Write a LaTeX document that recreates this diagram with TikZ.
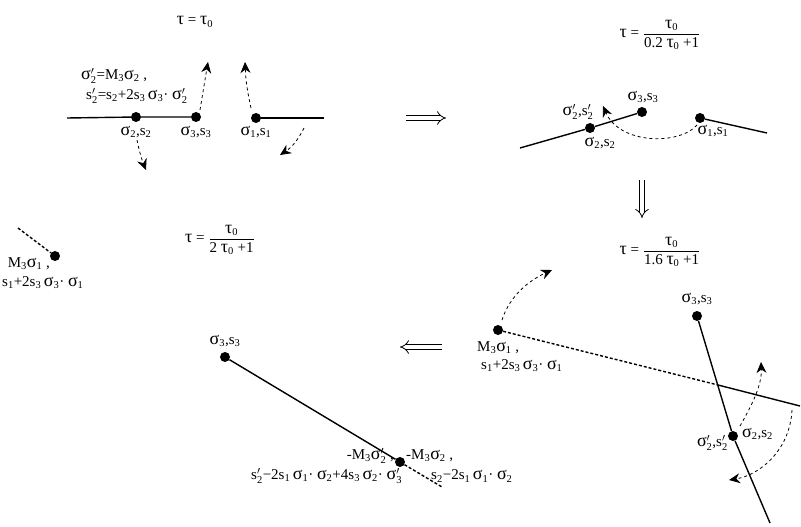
\documentclass[tikz,border=0pt]{standalone}
\usepackage{amsmath}
\usepackage{fontspec}
\setmainfont{Liberation Serif}
\usetikzlibrary{arrows.meta}
\newcommand\sig{{\fontsize{18}{18}\selectfont σ}}
\newcommand\ta{{\fontsize{18}{18}\selectfont τ}}
\newcommand\G[1]{$\text{\sig}_{\text{#1}}$}
\newcommand\Gp[1]{$\text{\sig}'_{\text{#1}}$}
\newcommand\Ss[1]{$\text{s}_{\text{#1}}$}
\newcommand\Sp[1]{$\text{s}'_{\text{#1}}$}
\newcommand\Mt{$\text{M}_{\text{3}}$}
\newcommand\Tau[1]{\ta{} = $\dfrac{\text{\ta}_{\text{0}}}{\text{#1 \ta}_{\text{0}}\text{ +1}}$}
\tikzset{dot/.style={circle,fill,inner sep=0pt,minimum size=10pt},
lbl/.style={inner sep=0pt,font=\fontsize{15}{16}\selectfont},
ln/.style={line width=1.4pt},
dt/.style={line width=1.4pt,dash pattern=on 3pt off 2pt},
dsh/.style={dashed,line width=0.8pt,-{Stealth[length=11pt,width=10pt]}},
big/.style={double,double distance=4pt,line width=0.8pt,-{Implies}}}
\begin{document}
\begin{tikzpicture}[x=1pt,y=-1pt]
\useasboundingbox (0,0) rectangle (801,527);
% panel 1
\node[lbl] (t1) at (195,22) {\ta{} = \ta$_{\text{0}}$};
\node[dot] (a2) at (136,117) {};
\node[dot] (a3) at (196,117) {};
\node[dot] (a1) at (256,118) {};
\coordinate (a0) at (67,118);
\coordinate (a4) at (324,118);
\draw[ln] (a0) -- (a2) -- (a3);
\draw[ln] (a1) -- (a4);
\node[lbl] at (136,132) {\G2,\Ss2};
\node[lbl] at (196,132) {\G3,\Ss3};
\node[lbl] at (256,132) {\G1,\Ss1};
\node[lbl,anchor=west] at (81,76) {\Gp2=\Mt\G2 ,};
\node[lbl,anchor=west] at (86,96) {\Sp2=\Ss2+2\Ss3\,\G3· \Gp2};
\coordinate (u1) at (208,62); \coordinate (u2) at (245,62);
\coordinate (d1) at (146,170); \coordinate (d2) at (280,155);
\draw[dsh] (200,110) -- (u1);
\draw[dsh] (251,108) to[bend left=5] (u2);
\draw[dsh] (137,140) to[bend right=5] (d1);
\draw[dsh] (304,128) to[bend left=15] (d2);
\coordinate (r1) at (406,118); \coordinate (r2) at (446,118);
\draw[big] (r1) -- (r2);
% panel 2
\node[lbl] (t2) at (660,35) {\Tau{0.2}};
\coordinate (b0) at (520,148);
\node[dot] (b2) at (590,128) {};
\node[dot] (b3) at (642,112) {};
\node[dot] (b1) at (700,118) {};
\coordinate (b4) at (767,133);
\draw[ln] (b0) -- (b2) -- (b3);
\draw[ln] (b1) -- (b4);
\node[lbl] at (578,112) {\Gp2,\Sp2};
\node[lbl] at (643,97) {\G3,\Ss3};
\node[lbl] at (600,143) {\G2,\Ss2};
\node[lbl] at (713,131) {\G1,\Ss1};
\coordinate (bt) at (603,106);
\draw[dsh] (697,125) .. controls (680,145) and (620,145) .. (bt);
\coordinate (v1) at (642,180); \coordinate (v2) at (642,218);
\draw[big] (v1) -- (v2);
% panel 3
\node[lbl] (t3) at (660,252) {\Tau{1.6}};
\node[dot] (c3) at (697,316) {};
\node[dot] (c2) at (733,436) {};
\coordinate (c4) at (770,523);
\draw[ln] (c3) -- (c2) -- (c4);
\node[lbl] at (697,299) {\G3,\Ss3};
\node[lbl,anchor=west] at (742,434) {\G2,\Ss2};
\node[lbl,anchor=east] at (728,443) {\Gp2,\Sp2};
\node[dot] (c1) at (498,330) {};
\coordinate (cx) at (718,385);
\coordinate (c5) at (800,406);
\draw[dt] (c1) -- (cx);
\draw[ln] (cx) -- (c5);
\node[lbl,anchor=west] at (477,348) {\Mt\G1 ,};
\node[lbl,anchor=west] at (481,366) {\Ss1+2\Ss3\,\G3· \G1};
\draw[dsh] (502,320) .. controls (510,295) and (530,280) .. (552,270);
\draw[dsh] (740,426) .. controls (752,405) and (762,385) .. (761,362);
\draw[dsh] (792,410) .. controls (790,450) and (760,475) .. (729,480);
\coordinate (l1) at (442,347); \coordinate (l2) at (400,347);
\draw[big] (l1) -- (l2);
% panel 4
\node[lbl] (t4) at (220,240) {\Tau{2}};
\node[dot] (e3) at (225,357) {};
\node[dot] (e2) at (400,462) {};
\coordinate (e5) at (442,487);
\draw[ln] (e3) -- (e2);
\draw[dt] (e2) -- (e5);
\node[lbl] at (225,341) {\G3,\Ss3};
\node[lbl,anchor=east] at (394,456) {-\Mt\Gp2 ,};
\node[lbl,anchor=west] at (406,456) {-\Mt\G2 ,};
\node[lbl,anchor=west] at (251,476) {\Sp2−2\Ss1\,\G1· \G2+4\Ss3\,\G2· \Gp3 };
\node[lbl,anchor=west] at (431,476) {\Ss2−2\Ss1\,\G1· \G2};
% left
\node[dot] (f1) at (55,256) {};
\coordinate (f0) at (18,228);
\draw[dt] (f0) -- (f1);
\node[lbl,anchor=east] at (50,264) {\Mt\G1 ,};
\node[lbl,anchor=west] at (2,283) {\Ss1+2\Ss3\,\G3· \G1};
\end{tikzpicture}
\end{document}
